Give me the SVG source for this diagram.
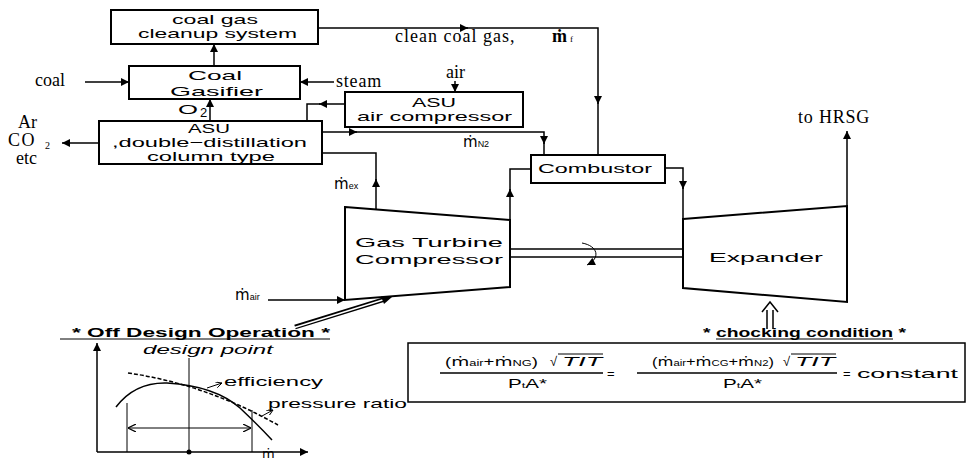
<svg xmlns="http://www.w3.org/2000/svg" width="975" height="462" viewBox="0 0 975 462">
<style>
.box{fill:#fff;stroke:#000;stroke-width:2}
.ln{fill:none;stroke:#000;stroke-width:1.5}
.thin{fill:none;stroke:#000;stroke-width:1}
.s{font-family:"Liberation Sans","DejaVu Sans",sans-serif;font-size:13px;fill:#000}
.r{font-family:"Liberation Serif","DejaVu Serif",serif;font-size:18px;fill:#000}
.m{font-family:"DejaVu Sans",sans-serif}
.sub{font-size:9px}
</style>
<defs>
<marker id="ah" viewBox="0 0 10 10" refX="10" refY="5" markerUnits="userSpaceOnUse" markerWidth="9" markerHeight="8" orient="auto"><path d="M0,0 L10,5 L0,10 z" fill="#000"/></marker>
<marker id="oh" viewBox="0 0 10 10" refX="10" refY="5" markerUnits="userSpaceOnUse" markerWidth="8" markerHeight="8" orient="auto-start-reverse"><path d="M0,0 L10,5 L0,10" fill="none" stroke="#000" stroke-width="1.5"/></marker>
<marker id="sh" viewBox="0 0 10 10" refX="10" refY="5" markerUnits="userSpaceOnUse" markerWidth="7" markerHeight="6" orient="auto"><path d="M0,0 L10,5 L0,10" fill="none" stroke="#000" stroke-width="1.5"/></marker>
</defs>

<g id="cleanup">
<rect class="box" x="111" y="10" width="207" height="34"/>
<text class="s" x="172" y="24" font-size="11" textLength="86" lengthAdjust="spacingAndGlyphs">coal gas</text>
<text class="s" x="138" y="38" font-size="11" textLength="159" lengthAdjust="spacingAndGlyphs">cleanup system</text>
</g>
<g id="gasifier">
<rect class="box" x="129" y="66" width="171" height="33"/>
<text class="s" x="188" y="80" textLength="54" lengthAdjust="spacingAndGlyphs">Coal</text>
<text class="s" x="170" y="96" textLength="93" lengthAdjust="spacingAndGlyphs">Gasifier</text>
</g>
<g id="asu">
<rect class="box" x="99" y="121" width="223" height="43"/>
<text class="s" x="188" y="133" textLength="42" lengthAdjust="spacingAndGlyphs">ASU</text>
<text class="s" x="112" y="147" textLength="195" lengthAdjust="spacingAndGlyphs">,double−distillation</text>
<text class="s" x="147" y="161" textLength="128" lengthAdjust="spacingAndGlyphs">column type</text>
</g>
<g id="asu-compressor">
<rect class="box" x="345" y="92" width="178" height="35"/>
<text class="s" x="412" y="107" textLength="44" lengthAdjust="spacingAndGlyphs">ASU</text>
<text class="s" x="357" y="121" textLength="155" lengthAdjust="spacingAndGlyphs">air compressor</text>
</g>
<g id="combustor">
<rect class="box" x="531" y="155" width="134" height="28"/>
<text class="s" x="538" y="173" textLength="114" lengthAdjust="spacingAndGlyphs">Combustor</text>
</g>
<g id="compressor">
<path class="box" d="M345,207 L510,220 L510,287 L345,300 Z"/>
<text class="s" x="355" y="247" font-size="14" textLength="148" lengthAdjust="spacingAndGlyphs">Gas Turbine</text>
<text class="s" x="355" y="264" font-size="14" textLength="148" lengthAdjust="spacingAndGlyphs">Compressor</text>
</g>
<g id="expander">
<path class="box" d="M683,219 L847,206 L847,302 L683,288 Z"/>
<text class="s" x="709" y="262" font-size="15" textLength="114" lengthAdjust="spacingAndGlyphs">Expander</text>
</g>

<g id="labels">
<text class="r" x="35" y="86">coal</text>
<text class="r" x="336" y="87" letter-spacing="0.8">steam</text>
<text class="r" x="446" y="78">air</text>
<text class="r" font-size="13"><tspan x="18" y="128">Ar</tspan><tspan x="8" y="146" letter-spacing="1.5">CO</tspan><tspan x="45" y="149" font-size="10">2</tspan><tspan x="16" y="164">etc</tspan></text>
<text class="s" x="178" y="114" font-size="12" textLength="20" lengthAdjust="spacingAndGlyphs">O</text>
<text class="s" x="200" y="117" font-size="7">2</text>
<text class="r" x="395" y="42" letter-spacing="1">clean coal gas,</text>
<text class="r" x="552" y="42" font-weight="bold">ṁ<tspan font-size="9" dx="3" font-weight="normal">f</tspan></text>
<text class="r" x="798" y="123" letter-spacing="0.8">to HRSG</text>
<text class="s" x="463" y="147"><tspan class="m" font-size="15">ṁ</tspan><tspan class="sub">N2</tspan></text>
<text class="s" x="334" y="189"><tspan class="m" font-size="15">ṁ</tspan><tspan class="sub">ex</tspan></text>
<text class="s" x="235" y="300"><tspan class="m" font-size="15">ṁ</tspan><tspan class="sub">air</tspan></text>
</g>

<g id="connectors">
<path class="ln" d="M85,82 H129" marker-end="url(#ah)"/>
<path class="ln" d="M334,82 H300" marker-end="url(#ah)"/>
<path class="ln" d="M214,66 V44" marker-end="url(#ah)"/>
<path class="ln" d="M210,121 V99" marker-end="url(#ah)"/>
<path class="ln" d="M99,143 H62" marker-end="url(#ah)"/>
<path class="ln" d="M455,81 V92" marker-end="url(#ah)"/>
<path class="ln" d="M345,104 H319" marker-end="url(#ah)"/>
<path class="ln" d="M320,104 H307 V121"/>
<path class="ln" d="M318,28 H468" marker-end="url(#ah)"/>
<path class="ln" d="M466,28 H598 V104" marker-end="url(#ah)"/>
<path class="ln" d="M598,102 V155"/>
<path class="ln" d="M322,132 H357" marker-end="url(#ah)"/>
<path class="ln" d="M355,132 H544 V144" marker-end="url(#ah)"/>
<path class="ln" d="M544,142 V155"/>
<path class="ln" d="M376,209 V179" marker-end="url(#ah)"/>
<path class="ln" d="M376,181 V153 H322"/>
<path class="ln" d="M510,220 V189" marker-end="url(#ah)"/>
<path class="ln" d="M510,191 V169 H531"/>
<path class="ln" d="M665,168 H683 V189" marker-end="url(#ah)"/>
<path class="ln" d="M683,187 V219"/>
<path class="ln" d="M847,206 V131" marker-end="url(#ah)"/>
<path class="ln" d="M268,300 H345" marker-end="url(#ah)"/>
<path class="ln" d="M510,249 H683"/>
<path class="ln" d="M510,257 H683"/>
<path class="thin" d="M582,243 C598,246 601,258 587,265" marker-end="url(#ah)"/>
<path d="M295,327 L384,299.5" stroke="#000" stroke-width="4.5" fill="none"/>
<path d="M293,328 L385,299.3" stroke="#fff" stroke-width="1.5" fill="none"/>
<path d="M392,297 L381,296.5 L384,304 Z" fill="#000"/>
</g>

<g id="off-design">
<text class="s" x="72" y="337" font-size="14" font-weight="bold" textLength="258" lengthAdjust="spacingAndGlyphs">* Off Design Operation *</text>
<path class="thin" d="M60,339 H330"/>
<text class="s" x="143" y="354" font-style="italic" textLength="130" lengthAdjust="spacingAndGlyphs">design point</text>
<path class="ln" d="M97,452 V343" marker-end="url(#ah)"/>
<path class="ln" d="M97,452 H308" marker-end="url(#ah)"/>
<path class="thin" d="M189,358 V452"/>
<circle cx="189" cy="452" r="2.5" fill="#000"/>
<path class="thin" d="M127,403 V452 M252,410 V452"/>
<path class="thin" d="M128,428 H251" marker-start="url(#oh)" marker-end="url(#oh)"/>
<path class="ln" d="M116,407 Q135,382 167,383 Q215,386 240,408 Q258,425 272,440"/>
<path class="ln" d="M128,373 Q205,384 278,425" stroke-dasharray="4,2"/>
<path class="thin" d="M207,388 L222,383" marker-end="url(#sh)"/>
<path class="thin" d="M262,416 L273,410" marker-end="url(#sh)"/>
<text class="s" x="224" y="386" textLength="99" lengthAdjust="spacingAndGlyphs">efficiency</text>
<text class="s" x="268" y="408" textLength="139" lengthAdjust="spacingAndGlyphs">pressure ratio</text>
<text class="s m" x="262" y="458" font-size="12">ṁ</text>
</g>

<g id="chocking">
<path class="ln" d="M767,329 V310 M773,329 V310"/>
<path class="ln" d="M762,312 L770,302 L778,312"/>
<text class="s" x="703" y="337" font-size="14" font-weight="bold" textLength="203" lengthAdjust="spacingAndGlyphs">* chocking condition *</text>
<path class="thin" d="M716,339 H893"/>
<rect x="408" y="343" width="557" height="59" fill="none" stroke="#000" stroke-width="1.5"/>
<text class="s" x="445" y="366" font-size="15" textLength="93" lengthAdjust="spacingAndGlyphs">(<tspan class="m">ṁ</tspan><tspan font-size="9">air</tspan>+<tspan class="m">ṁ</tspan><tspan font-size="9">NG</tspan>)</text>
<text class="s" x="550" y="366" font-size="14">√</text>
<text class="s" x="562" y="366" font-size="14" font-style="italic" textLength="40" lengthAdjust="spacingAndGlyphs">TIT</text>
<path class="thin" d="M558,354 H603"/>
<path class="ln" d="M440,373 H603"/>
<text class="s" x="508" y="388" font-size="13" textLength="39" lengthAdjust="spacingAndGlyphs">P<tspan font-size="8">t</tspan>A*</text>
<text class="s" x="607" y="378" font-size="15">=</text>
<text class="s" x="652" y="366" font-size="15" textLength="122" lengthAdjust="spacingAndGlyphs">(<tspan class="m">ṁ</tspan><tspan font-size="9">air</tspan>+<tspan class="m">ṁ</tspan><tspan font-size="9">CG</tspan>+<tspan class="m">ṁ</tspan><tspan font-size="9">N2</tspan>)</text>
<text class="s" x="783" y="366" font-size="14">√</text>
<text class="s" x="795" y="366" font-size="14" font-style="italic" textLength="40" lengthAdjust="spacingAndGlyphs">TIT</text>
<path class="thin" d="M791,354 H836"/>
<path class="ln" d="M637,373 H837"/>
<text class="s" x="723" y="388" font-size="13" textLength="39" lengthAdjust="spacingAndGlyphs">P<tspan font-size="8">t</tspan>A*</text>
<text class="s" x="843" y="378" font-size="15">=</text>
<text class="s" x="857" y="378" font-size="14" textLength="101" lengthAdjust="spacingAndGlyphs">constant</text>
</g>
</svg>
